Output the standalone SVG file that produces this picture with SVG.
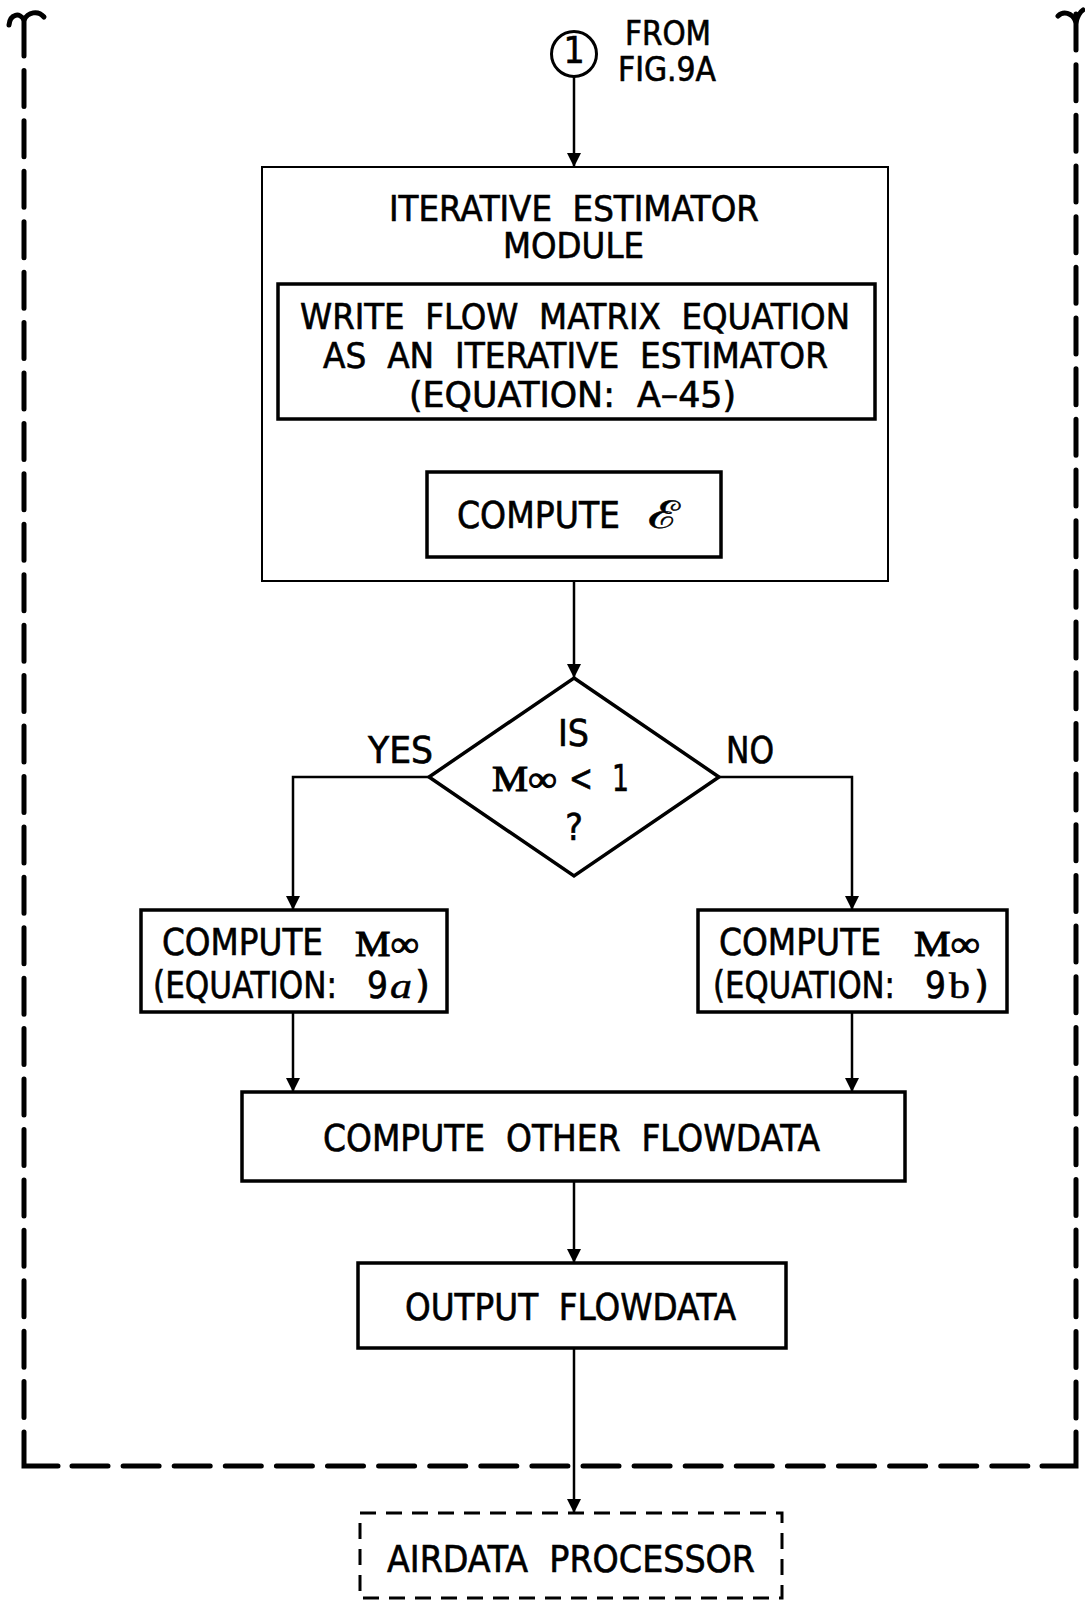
<svg xmlns="http://www.w3.org/2000/svg" width="1085" height="1604" viewBox="0 0 1085 1604" xml:space="preserve">
<style>
.t { font-family: "Liberation Sans Narrow", "DejaVu Sans Condensed", "Liberation Sans", Arial, sans-serif; font-size: 37px; fill: #000; stroke: #000; stroke-width: 0.6; white-space: pre; }
.ml { font-size: 35px; }
.sm { font-size: 33px; }
.s { font-family: "Liberation Serif", "DejaVu Serif", serif; fill: #000; stroke: #000; stroke-width: 0.5; }
.mi { font-family: "Liberation Serif", "DejaVu Serif", serif; font-size: 36px; fill: #000; stroke: #000; stroke-width: 1; }
.box { fill: #fff; stroke: #000; stroke-width: 3.5; }
.thin { fill: #fff; stroke: #000; stroke-width: 2; }
.conn { fill: none; stroke: #000; stroke-width: 2.5; }
.bd { fill: none; stroke: #000; stroke-width: 5; stroke-linecap: round; }
.bdash { fill: none; stroke: #000; stroke-width: 3; stroke-dasharray: 16 10; }
</style>
<defs>
<marker id="ah" viewBox="0 0 14 26" refX="14" refY="13" markerWidth="14" markerHeight="26" markerUnits="userSpaceOnUse" orient="auto">
<path d="M0,6 L14,13 L0,20 Z" fill="#000"/>
</marker>
</defs>
<rect width="1085" height="1604" fill="#fff"/>

<g id="border">
<path class="bd" d="M 9 25 C 10 14, 20 12, 24 20 C 28 12, 38 10, 44 17"/>
<path class="bd" d="M 24 20 V 1418" stroke-dasharray="36 14.43" stroke-linecap="butt"/>
<path class="bd" d="M 24 1432 V 1466 H 58"/>
<path class="bd" d="M 72 1466 H 1028" stroke-dasharray="36 15.1" stroke-linecap="butt"/>
<path class="bd" d="M 1042 1466 H 1076 V 1432"/>
<path class="bd" d="M 1076 14 V 1418" stroke-dasharray="36 14.67" stroke-linecap="butt"/>
<path class="bd" d="M 1058 16 C 1063 11, 1072 12, 1076 22 C 1078 15, 1080 12, 1083 10"/>
</g>

<g id="connectors">
<line class="conn" x1="574" y1="77" x2="574" y2="167" marker-end="url(#ah)"/>
<line class="conn" x1="574" y1="419" x2="574" y2="472" marker-end="url(#ah)"/>
<line class="conn" x1="574" y1="557" x2="574" y2="678" marker-end="url(#ah)"/>
<polyline class="conn" points="429,777 293,777 293,910" marker-end="url(#ah)"/>
<polyline class="conn" points="719,777 852,777 852,910" marker-end="url(#ah)"/>
<line class="conn" x1="293" y1="1012" x2="293" y2="1092" marker-end="url(#ah)"/>
<line class="conn" x1="852" y1="1012" x2="852" y2="1092" marker-end="url(#ah)"/>
<line class="conn" x1="574" y1="1181" x2="574" y2="1263" marker-end="url(#ah)"/>
<line class="conn" x1="574" y1="1348" x2="574" y2="1513" marker-end="url(#ah)"/>
</g>

<g id="start">
<circle cx="574" cy="54" r="22.5" fill="#fff" stroke="#000" stroke-width="3"/>
<text class="t" x="574" y="63" font-size="26" text-anchor="middle">1</text>
<text class="t sm" x="625" y="45" textLength="86" lengthAdjust="spacingAndGlyphs">FROM</text>
<text class="t sm" x="618" y="81" textLength="98" lengthAdjust="spacingAndGlyphs">FIG.9A</text>
</g>

<g id="module">
<rect class="thin" x="262" y="167" width="626" height="414"/>
<text class="t ml" x="389" y="221" textLength="370" lengthAdjust="spacingAndGlyphs">ITERATIVE  ESTIMATOR</text>
<text class="t ml" x="503" y="258" textLength="141" lengthAdjust="spacingAndGlyphs">MODULE</text>
</g>

<g id="write">
<rect class="box" x="278" y="284" width="597" height="135"/>
<text class="t ml" x="300" y="329" textLength="550" lengthAdjust="spacingAndGlyphs">WRITE  FLOW  MATRIX  EQUATION</text>
<text class="t ml" x="323" y="368" textLength="505" lengthAdjust="spacingAndGlyphs">AS  AN  ITERATIVE  ESTIMATOR</text>
<text class="t ml" x="409" y="407" textLength="327" lengthAdjust="spacingAndGlyphs">(EQUATION:  A–45)</text>
</g>

<g id="compute-eps">
<rect class="box" x="427" y="472" width="294" height="85"/>
<text class="t" x="457" y="528" textLength="163" lengthAdjust="spacingAndGlyphs">COMPUTE</text>
<text class="s" x="648" y="528" font-size="38" textLength="32" lengthAdjust="spacingAndGlyphs">ℰ</text>
</g>

<g id="decision">
<polygon points="574,678 719,777 574,876 429,777" fill="#fff" stroke="#000" stroke-width="3.5"/>
<text class="t" x="558" y="746" textLength="31" lengthAdjust="spacingAndGlyphs">IS</text>
<text class="mi" x="492" y="791" textLength="65" lengthAdjust="spacingAndGlyphs">M∞</text>
<text class="t" x="569" y="791" textLength="24" lengthAdjust="spacingAndGlyphs">&lt;</text>
<text class="t" x="612" y="791" textLength="17" lengthAdjust="spacingAndGlyphs">1</text>
<text class="t" x="574" y="840" text-anchor="middle">?</text>
<text class="t" x="368" y="763" textLength="65" lengthAdjust="spacingAndGlyphs">YES</text>
<text class="t" x="726" y="763" textLength="48" lengthAdjust="spacingAndGlyphs">NO</text>
</g>

<g id="compute-9a">
<rect class="box" x="141" y="910" width="306" height="102"/>
<text class="t" x="162" y="955" textLength="161" lengthAdjust="spacingAndGlyphs">COMPUTE</text>
<text class="mi" x="355" y="956" textLength="64" lengthAdjust="spacingAndGlyphs">M∞</text>
<text class="t" x="153" y="998" textLength="184" lengthAdjust="spacingAndGlyphs">(EQUATION:</text>
<text class="t" x="367" y="998" textLength="21" lengthAdjust="spacingAndGlyphs">9</text>
<text class="s" x="390" y="998" font-size="36" font-style="italic" textLength="22" lengthAdjust="spacingAndGlyphs">a</text>
<text class="t" x="415" y="998" textLength="15" lengthAdjust="spacingAndGlyphs">)</text>
</g>

<g id="compute-9b">
<rect class="box" x="698" y="910" width="309" height="102"/>
<text class="t" x="719" y="955" textLength="162" lengthAdjust="spacingAndGlyphs">COMPUTE</text>
<text class="mi" x="914" y="956" textLength="66" lengthAdjust="spacingAndGlyphs">M∞</text>
<text class="t" x="713" y="998" textLength="182" lengthAdjust="spacingAndGlyphs">(EQUATION:</text>
<text class="t" x="925" y="998" textLength="21" lengthAdjust="spacingAndGlyphs">9</text>
<text class="s" x="949" y="998" font-size="36" textLength="21" lengthAdjust="spacingAndGlyphs">b</text>
<text class="t" x="974" y="998" textLength="15" lengthAdjust="spacingAndGlyphs">)</text>
</g>

<g id="compute-other">
<rect class="box" x="242" y="1092" width="663" height="89"/>
<text class="t" x="323" y="1151" textLength="497" lengthAdjust="spacingAndGlyphs">COMPUTE  OTHER  FLOWDATA</text>
</g>

<g id="output">
<rect class="box" x="358" y="1263" width="428" height="85"/>
<text class="t" x="405" y="1320" textLength="331" lengthAdjust="spacingAndGlyphs">OUTPUT  FLOWDATA</text>
</g>

<g id="airdata">
<rect class="bdash" x="360" y="1513" width="422" height="85"/>
<text class="t" x="387" y="1572" textLength="368" lengthAdjust="spacingAndGlyphs">AIRDATA  PROCESSOR</text>
</g>
</svg>
